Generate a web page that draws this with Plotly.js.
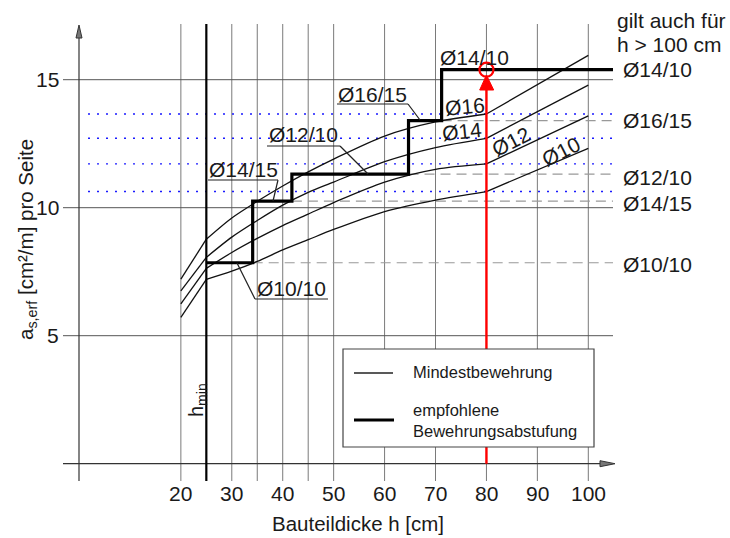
<!DOCTYPE html>
<html><head><meta charset="utf-8">
<script src="https://cdn.plot.ly/plotly-3.0.1.min.js"></script>
<style>html,body{margin:0;padding:0;background:#fff}#chart{width:730px;height:538px}</style>
</head><body><div id="chart"></div>
<script>
// ---------------- data ----------------
const thickness = [20, 25, 30, 35, 40, 45, 50, 60, 70, 80, 100];
const asD10 = [5.72, 7.20, 7.52, 7.90, 8.35, 8.75, 9.15, 9.85, 10.30, 10.63, 12.32];
const asD12 = [6.24, 7.63, 8.25, 8.80, 9.30, 9.75, 10.20, 11.00, 11.50, 11.71, 13.59];
const asD14 = [6.75, 8.06, 8.85, 9.50, 10.10, 10.60, 11.00, 11.80, 12.35, 12.71, 14.79];
const asD16 = [7.21, 8.77, 9.60, 10.25, 10.85, 11.40, 11.90, 12.80, 13.35, 13.66, 15.95];
const curveNames = ['Ø10', 'Ø12', 'Ø14', 'Ø16'];
const stepStart = [25, 34.1, 41.8, 64.7, 71.2];
const stepEnd = 104.85;
const stepArea = [7.85, 10.26, 11.31, 13.40, 15.39];
const stepNames = ['Ø10/10', 'Ø14/15', 'Ø12/10', 'Ø16/15', 'Ø14/10'];
const xTickVals = [20, 30, 40, 50, 60, 70, 80, 90, 100];
const xGridVals = [20, 30, 35, 40, 45, 50, 60, 70, 80, 90, 100];
const yTickVals = [5, 10, 15];
const hMin = 25;
const hExample = 80;

// ---------------- geometry helpers (pixel -> data) ----------------
const X0PX = 79, XS = 5.093, Y0PX = 463.7, YS = 25.6, W = 730, HGT = 538;
const hx = px => (px - X0PX) / XS;
const vy = py => (Y0PX - py) / YS;
const FONT = 'Liberation Sans, Arial, sans-serif';
const TXT = '#1a1a1a';

const curves = [asD10, asD12, asD14, asD16];
const traces = [];
const i25 = thickness.indexOf(hMin), i80 = thickness.indexOf(hExample);
curves.forEach((c, k) => {
  const segs = [[0, i25, 'linear'], [i25, i80, 'spline'], [i80, thickness.length - 1, 'linear']];
  segs.forEach(([a, b, sh]) => {
    traces.push({
      x: thickness.slice(a, b + 1), y: c.slice(a, b + 1), mode: 'lines', type: 'scatter',
      line: {color: '#111', width: 1.3, shape: sh, smoothing: 0.8}, hoverinfo: 'skip', showlegend: false,
      name: curveNames[k]
    });
  });
});
// staircase
const sx = [], sy = [];
stepArea.forEach((v, i) => {
  const x1 = i + 1 < stepStart.length ? stepStart[i + 1] : stepEnd;
  sx.push(stepStart[i], x1); sy.push(v, v);
});
traces.push({x: sx, y: sy, mode: 'lines', type: 'scatter', line: {color: '#000', width: 3.2},
  hoverinfo: 'skip', showlegend: false, name: 'empfohlene Bewehrungsabstufung'});

const shapes = [];
const L = (x0, y0, x1, y1, color, width, extra) => Object.assign(
  {type: 'line', xref: 'x', yref: 'y', x0, y0, x1, y1, line: {color, width}}, extra || {});
const Lpx = (a, b, c, d, color, width, extra) => L(hx(a), vy(b), hx(c), vy(d), color, width, extra);

// vertical grid lines
xGridVals.forEach(g => shapes.push(L(g, vy(481), g, vy(24), '#7a7a7a', 1, {layer: 'below'})));
// horizontal grid lines
yTickVals.forEach(v => shapes.push(L(hx(63), v, hx(613), v, '#555', 1, {layer: 'below'})));
// x axis and y axis
shapes.push(L(hx(63), 0, hx(603), 0, '#333', 1.2, {layer: 'below'}));
shapes.push(L(0, vy(481), 0, vy(33), '#333', 1.2, {layer: 'below'}));
// arrow heads
shapes.push({type: 'path', xref: 'x', yref: 'y', layer: 'below',
  path: `M${hx(615)},0 L${hx(600)},${vy(460.7)} L${hx(600)},${vy(466.7)} Z`,
  fillcolor: '#777', line: {color: '#333', width: 1}});
shapes.push({type: 'path', xref: 'x', yref: 'y', layer: 'below',
  path: `M0,${vy(25)} L${hx(76)},${vy(38)} L${hx(82)},${vy(38)} Z`,
  fillcolor: '#777', line: {color: '#333', width: 1}});
// h_min line
shapes.push(L(hMin, vy(481), hMin, vy(24), '#000', 2.2));
// blue dotted levels (curve values at h = 80)
curves.forEach(c => shapes.push(L(hx(88), c[i80], hx(613), c[i80], '#1a1aff', 1.4,
  {layer: 'below', line: {color: '#1a1aff', width: 1.4, dash: '2px,7px'}})));
// gray dashed continuation of the steps
for (let i = 0; i < 4; i++) {
  shapes.push(L(stepStart[i + 1], stepArea[i], hx(613), stepArea[i], '#999', 1.2,
    {layer: 'below', line: {color: '#999', width: 1.2, dash: '10px,6px'}}));
}
// label underlines and leaders
const leaders = [
  [[337, 104, 408, 104], [408, 104, 420, 120]],
  [[267, 146, 340, 146], [340, 146, 368, 174]],
  [[208, 180, 278, 180], [278, 180, 273, 201]],
  [[255, 299, 328, 299], [255, 299, 237, 263]]
];
leaders.forEach(pair => pair.forEach(s => shapes.push(Lpx(s[0], s[1], s[2], s[3], '#222', 1.2))));

// red example line, arrow and circle
shapes.push(L(hExample, 0, hExample, vy(88), '#ff0000', 2.4, {layer: 'above'}));
shapes.push({type: 'path', xref: 'x', yref: 'y', layer: 'above',
  path: `M${hExample},${vy(75)} L${hx(486.7 - 7)},${vy(90)} L${hx(486.7 + 7)},${vy(90)} Z`,
  fillcolor: '#ff0000', line: {color: '#ff0000', width: 1}});
shapes.push({type: 'circle', xref: 'x', yref: 'y', layer: 'above',
  x0: hExample - 7 / XS, x1: hExample + 7 / XS, y0: stepArea[4] - 7 / YS, y1: stepArea[4] + 7 / YS,
  line: {color: '#ff0000', width: 2.2}, fillcolor: 'rgba(0,0,0,0)'});

// legend box
shapes.push({type: 'rect', xref: 'x', yref: 'y', layer: 'above',
  x0: hx(343), x1: hx(594), y0: vy(447), y1: vy(349), fillcolor: '#fff', line: {color: '#444', width: 1.2}});
shapes.push(Lpx(354, 373, 393, 373, '#222', 1.3, {layer: 'above'}));
shapes.push(Lpx(354, 420, 394, 420, '#000', 3.2, {layer: 'above'}));

// ---------------- annotations ----------------
const ann = [];
const A = (px, py, text, size, opts) => Object.assign({
  xref: 'x', yref: 'y', x: hx(px), y: vy(py), text, showarrow: false,
  font: {family: FONT, size, color: TXT}, xanchor: 'center', yanchor: 'middle'
}, opts || {});
xTickVals.forEach(t => ann.push({xref: 'x', yref: 'y', x: t, y: vy(493), text: String(t), showarrow: false,
  font: {family: FONT, size: 21, color: TXT}, xanchor: 'center', yanchor: 'middle'}));
yTickVals.forEach(t => ann.push({xref: 'x', yref: 'y', x: hx(61), y: t, text: String(t), showarrow: false,
  font: {family: FONT, size: 21, color: TXT}, xanchor: 'right', yanchor: 'middle'}));
ann.push(A(358, 523, 'Bauteildicke h [cm]', 20.5));
ann.push(A(27, 240, 'a<sub>s,erf</sub> [cm²/m] pro Seite', 20.5, {textangle: -90}));
ann.push(A(197, 400, 'h<sub>min</sub>', 20, {textangle: -90}));
// step labels on the plot
const stepLabelPos = [[291, 288], [243, 169], [303, 134], [372, 94], [474, 57]];
stepNames.forEach((n, i) => ann.push(A(stepLabelPos[i][0], stepLabelPos[i][1], n, 21)));
// right side labels (small vertical offsets in px, as in the reference)
const rightShift = [-2, -2, -3, 0, 0];
stepNames.forEach((n, i) => ann.push({xref: 'x', yref: 'y', x: hx(621), y: stepArea[i], yshift: rightShift[i],
  text: n, showarrow: false, font: {family: FONT, size: 21, color: TXT}, xanchor: 'left', yanchor: 'middle'}));
ann.push(A(615, 20, 'gilt auch für', 21, {xanchor: 'left'}));
ann.push(A(615, 44, 'h &gt; 100 cm', 21, {xanchor: 'left'}));
// curve labels
const curveLabelPos = [[561, 151, -27], [511, 141, -27], [462, 131, -6], [465, 106, -5]];
curveNames.forEach((n, k) => ann.push(A(curveLabelPos[k][0], curveLabelPos[k][1], n, 21, {textangle: curveLabelPos[k][2]})));
// legend texts
ann.push(A(411, 372, 'Mindestbewehrung', 16.5, {xanchor: 'left'}));
ann.push(A(411, 410, 'empfohlene', 16.5, {xanchor: 'left'}));
ann.push(A(411, 431, 'Bewehrungsabstufung', 16.5, {xanchor: 'left'}));

const layout = {
  width: W, height: HGT, margin: {l: 0, r: 0, t: 0, b: 0},
  paper_bgcolor: '#fff', plot_bgcolor: '#fff', showlegend: false,
  xaxis: {range: [hx(0), hx(W)], visible: false, fixedrange: true},
  yaxis: {range: [vy(HGT), vy(0)], visible: false, fixedrange: true},
  shapes, annotations: ann, font: {family: FONT, color: TXT}
};
Plotly.newPlot('chart', traces, layout, {displayModeBar: false, staticPlot: true});
</script></body></html>
